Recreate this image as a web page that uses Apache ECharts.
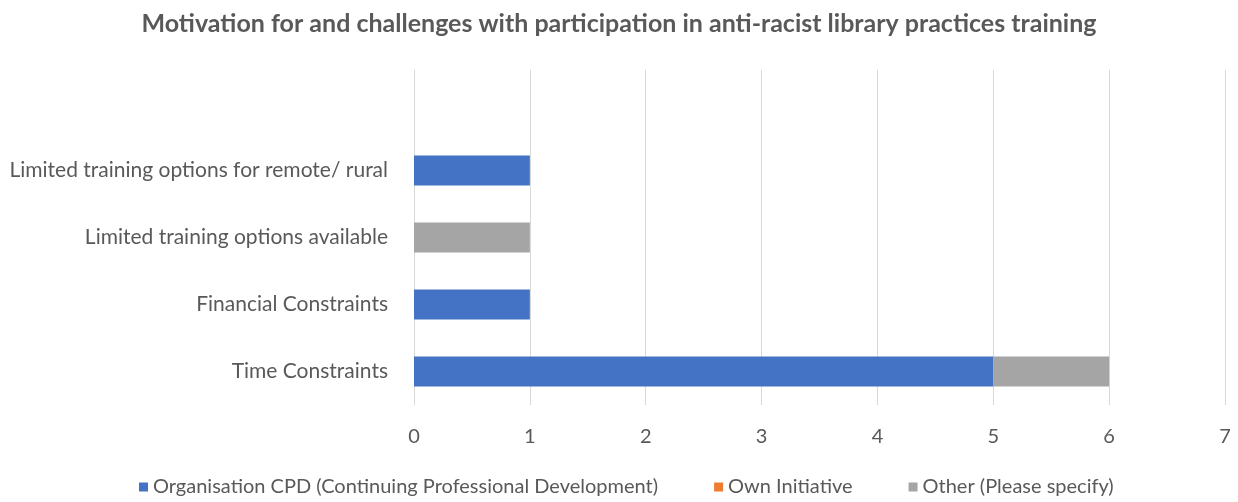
<!DOCTYPE html>
<html>
<head>
<meta charset="utf-8">
<script src="https://cdn.jsdelivr.net/npm/echarts@6/dist/echarts.min.js"></script>
<style>
  html, body { margin: 0; padding: 0; background: #fff; }
  #chart-container { width: 1238px; height: 502px; }
</style>
</head>
<body>
<div id="chart-container"></div>
<script>
const categories = [
    'Time Constraints',
    'Financial Constraints',
    'Limited training options available',
    'Limited training options for remote/ rural',
    ''
];
const orgCpd = [5, 1, 0, 1, 0];
const ownInitiative = [0, 0, 0, 0, 0];
const otherSpecify = [1, 0, 1, 0, 0];
const xTicks = [0, 1, 2, 3, 4, 5, 6, 7];

const textColor = '#595959';
const linesColor = '#d9d9d9';
const fontFamily = 'Lato, "Open Sans", sans-serif';

const chartContainer = document.getElementById('chart-container');
const myChart = echarts.init(chartContainer);

const showNonZero = arr => arr.map(v => (v === 0 ? null : v));

const options = {
    animation: false,
    title: {
        text: 'Motivation for and challenges with participation in anti-racist library practices training',
        left: 'center',
        top: 6,
        textStyle: {
            color: textColor,
            fontSize: 25,
            fontWeight: 'bold',
            fontFamily: fontFamily
        }
    },
    legend: {
        bottom: 0,
        left: 134,
        itemWidth: 9,
        itemHeight: 9,
        itemGap: 56,
        icon: 'rect',
        textStyle: {
            color: textColor,
            fontSize: 20,
            fontFamily: fontFamily
        },
        data: ['Organisation CPD (Continuing Professional Development)', 'Own Initiative', 'Other (Please specify)']
    },
    grid: {
        left: 414,
        right: 13,
        top: 70,
        bottom: 97
    },
    xAxis: {
        type: 'value',
        min: xTicks[0],
        max: xTicks[xTicks.length - 1],
        interval: 1,
        axisLine: { show: false },
        axisTick: { show: false },
        axisLabel: {
            color: textColor,
            fontSize: 20,
            fontFamily: fontFamily,
            margin: 22
        },
        splitLine: {
            show: true,
            lineStyle: { color: linesColor }
        }
    },
    yAxis: {
        type: 'category',
        data: categories,
        axisLine: { show: true, lineStyle: { color: linesColor } },
        axisTick: { show: false },
        axisLabel: {
            color: textColor,
            fontSize: 21,
            fontFamily: fontFamily,
            margin: 26
        }
    },
    series: [
        {
            name: 'Organisation CPD (Continuing Professional Development)',
            type: 'bar',
            stack: 'total',
            barWidth: 30,
            itemStyle: { color: '#4472C4' },
            data: showNonZero(orgCpd)
        },
        {
            name: 'Own Initiative',
            type: 'bar',
            stack: 'total',
            barWidth: 30,
            itemStyle: { color: '#ED7D31' },
            data: showNonZero(ownInitiative)
        },
        {
            name: 'Other (Please specify)',
            type: 'bar',
            stack: 'total',
            barWidth: 30,
            itemStyle: { color: '#A5A5A5' },
            data: showNonZero(otherSpecify)
        }
    ]
};

myChart.setOption(options);
</script>
</body>
</html>
